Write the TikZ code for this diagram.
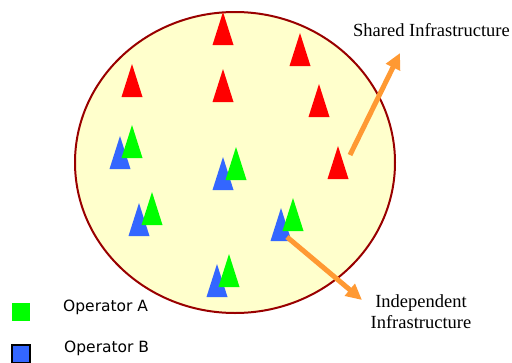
\documentclass[tikz,border=0pt]{standalone}
\usepackage{fontspec}
\setmainfont{Liberation Serif}
\newfontfamily\legendfont{DejaVu Sans}
\usetikzlibrary{arrows.meta}

\definecolor{cellfill}{HTML}{FFFFCC}
\definecolor{cellline}{HTML}{990000}
\definecolor{opagreen}{HTML}{00FF00}
\definecolor{opbblue}{HTML}{3366FF}
\definecolor{linkorange}{HTML}{FF9933}

\tikzset{
  ant/.pic={\fill (-10.5,33) -- (0,0) -- (10.5,33) -- cycle;},
  shared/.style={red},
  opa/.style={opagreen},
  opb/.style={opbblue},
  link/.style={linkorange, line width=5pt, -{Triangle[length=16pt,width=15pt]}},
  key/.style={minimum size=18pt, inner sep=0pt},
  lbl/.style={font=\fontsize{18.5}{21}\selectfont, align=center, inner sep=0pt},
  leg/.style={font=\legendfont\fontsize{15.5}{18}\selectfont, anchor=west, inner sep=0pt}
}

\begin{document}
\begin{tikzpicture}[x=1pt, y=-1pt]
                      \useasboundingbox (0,0) rectangle (512,362);

                      \draw[cellline, fill=cellfill, line width=2pt] (235,162.5) ellipse [x radius=160, y radius=150.5];

                      \pic[shared] (r1) at (223,12)  {ant};
                      \pic[shared] (r2) at (300,33)  {ant};
                      \pic[shared] (r3) at (132,64)  {ant};
                      \pic[shared] (r4) at (223,69)  {ant};
                      \pic[shared] (r5) at (319,84)  {ant};
                      \pic[shared] (r6) at (338,146) {ant};

                      \pic[opb] (b1) at (120,136) {ant};
                      \pic[opa] (a1) at (132,125) {ant};
                      \pic[opb] (b2) at (223,157) {ant};
                      \pic[opa] (a2) at (236,147) {ant};
                      \pic[opb] (b3) at (139,203) {ant};
                      \pic[opa] (a3) at (152,192) {ant};
                      \pic[opb] (b4) at (281,208) {ant};
                      \pic[opa] (a4) at (293,198) {ant};
                      \pic[opb] (b5) at (217,264) {ant};
                      \pic[opa] (a5) at (229,254) {ant};

                      \coordinate (sharedfrom) at (350,155);
                      \coordinate (sharedto)   at (400,53);
                      \coordinate (indepfrom)  at (287,237);
                      \coordinate (indepto)    at (362,300);

                      \node[lbl] (shared) at (431.5,30) {Shared Infrastructure};
                      \node[lbl] (indep)  at (421,312)  {Independent\\Infrastructure};

                      \draw[link] (sharedfrom) -- (sharedto);
                      \draw[link] (indepfrom) -- (indepto);

                      \node[key, fill=opagreen] (keyA) at (21,312) {};
                      \node[key, fill=opbblue, draw=black, line width=1.5pt] (keyB) at (21,354) {};
                      \node[leg] (opA) at (63,307) {Operator A};
                      \node[leg] (opB) at (64,348) {Operator B};
                \end{tikzpicture}
\end{document}
